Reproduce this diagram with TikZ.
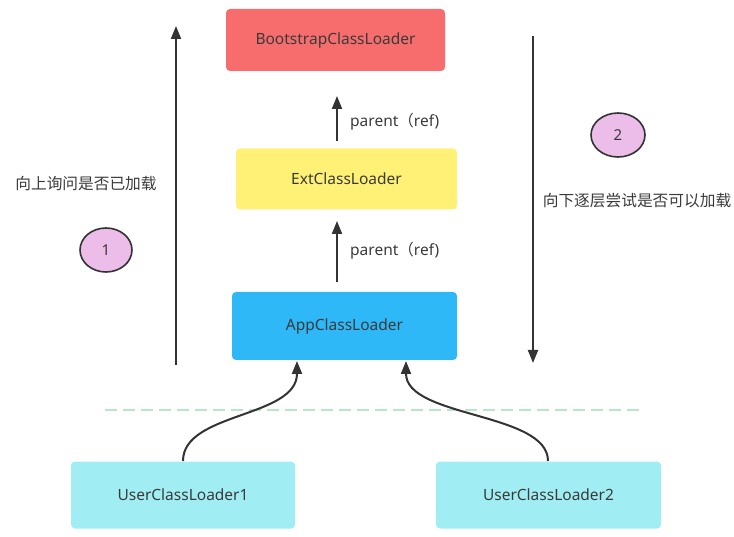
\documentclass[tikz,border=0pt]{standalone}
\usepackage{fontspec}
\setmainfont{Noto Sans}
\newfontfamily\cjk{Noto Sans CJK SC}
\usetikzlibrary{arrows.meta,shapes.geometric}
\definecolor{txt}{HTML}{3A3A3A}
\definecolor{bootc}{HTML}{F76D6D}
\definecolor{extc}{HTML}{FFF176}
\definecolor{appc}{HTML}{2FB8F8}
\definecolor{userc}{HTML}{A0EEF4}
\definecolor{circc}{HTML}{EBBDE8}
\definecolor{dashc}{HTML}{B8E6C8}
\definecolor{linec}{HTML}{333333}
\begin{document}
\begin{tikzpicture}[x=1pt,y=-1pt,
  box/.style={rounded corners=4pt, inner sep=0pt, text=txt, font=\fontsize{15.5}{17}\selectfont},
  lbl/.style={text=txt, inner sep=0pt, font=\fontsize{15.5}{17}\selectfont},
  num/.style={ellipse, draw=linec, line width=1.6pt, fill=circc, text=txt, inner sep=0pt, font=\fontsize{15}{17}\selectfont},
  arr/.style={draw=linec, line width=2pt, -{Triangle[length=13pt,width=10pt]}},
]
\useasboundingbox (0,0) rectangle (734,537);
\node[box, fill=bootc, minimum width=219pt, minimum height=62pt] (boot) at (335.5,40) {BootstrapClassLoader};
\node[box, fill=extc, minimum width=221pt, minimum height=61pt] (ext) at (346.5,179) {ExtClassLoader};
\node[box, fill=appc, minimum width=225pt, minimum height=68pt] (app) at (344.5,326) {AppClassLoader};
\node[box, fill=userc, minimum width=224pt, minimum height=67pt] (u1) at (183,495) {UserClassLoader1};
\node[box, fill=userc, minimum width=225pt, minimum height=67pt] (u2) at (548.5,495) {UserClassLoader2};

\coordinate (a1s) at (337,141);
\coordinate (a1e) at (337,96);
\coordinate (a2s) at (337,282);
\coordinate (a2e) at (337,221);
\draw[arr] (a1s) -- (a1e);
\draw[arr] (a2s) -- (a2e);
\node[lbl, anchor=west] (p1) at (350,122) {parent{\cjk（}ref)};
\node[lbl, anchor=west] (p2) at (350,251) {parent{\cjk（}ref)};

\coordinate (upS) at (176,365);
\coordinate (upE) at (176,26);
\coordinate (dnS) at (533,36);
\coordinate (dnE) at (533,363);
\draw[arr] (upS) -- (upE);
\draw[arr] (dnS) -- (dnE);

\node[lbl] (t1) at (86,184) {\cjk\fontsize{15.7}{17}\selectfont 向上询问是否已加载};
\node[lbl] (t2) at (637,201) {\cjk\fontsize{15.7}{17}\selectfont 向下逐层尝试是否可以加载};
\node[num, minimum width=52pt, minimum height=44pt] (c1) at (106,250) {1};
\node[num, minimum width=54pt, minimum height=44pt] (c2) at (618,135) {2};

\coordinate (dl) at (105,410);
\coordinate (dr) at (640,410);
\draw[dashc, line width=2pt, dash pattern=on 12pt off 6pt] (dl) -- (dr);

\coordinate (u1t) at (183,461);
\coordinate (app1) at (297,361);
\coordinate (u2t) at (548,461);
\coordinate (app2) at (406,361);
\draw[arr] (u1t) .. controls (183,412) and (297,418) .. (app1);
\draw[arr] (u2t) .. controls (548,412) and (406,418) .. (app2);
\end{tikzpicture}
\end{document}
